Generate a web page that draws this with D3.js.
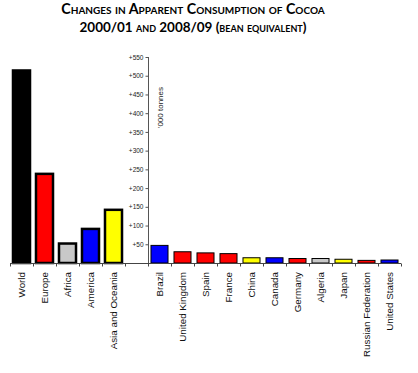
<!DOCTYPE html>
<html>
<head>
<meta charset="utf-8">
<script src="https://cdn.jsdelivr.net/npm/d3@7"></script>
<style>
  body { margin: 0; background: #fff; }
  text { font-family: "Liberation Sans", Arial, sans-serif; }
</style>
</head>
<body>
<div id="chart"></div>
<script>
// chart values
var regions = ["World", "Europe", "Africa", "America", "Asia and Oceania"];
var regionValues = [514, 238, 52, 91, 142];
var countries = ["Brazil", "United Kingdom", "Spain", "France", "China", "Canada",
  "Germany", "Algeria", "Japan", "Russian Federation", "United States"];
var countryValues = [47, 30, 27, 25, 14, 14, 12, 12, 10, 7, 8];
var yTicks = [50, 100, 150, 200, 250, 300, 350, 400, 450, 500, 550];

// fill per category
var fills = {
  "World": "#000000", "Europe": "#ff0000", "Africa": "#c8c8c8", "America": "#0000ff",
  "Asia and Oceania": "#ffff00", "Brazil": "#0000ff", "United Kingdom": "#ff0000",
  "Spain": "#ff0000", "France": "#ff0000", "China": "#ffff00", "Canada": "#0000ff",
  "Germany": "#ff0000", "Algeria": "#c8c8c8", "Japan": "#ffff00",
  "Russian Federation": "#ff0000", "United States": "#0000ff"
};

var svgWidth = 418, svgHeight = 373;

var svg = d3.select("#chart").append("svg")
  .attr("width", svgWidth)
  .attr("height", svgHeight);

// title, each line sized to the width it takes in the original
var titleLines = [
  { text: "Changes in Apparent Consumption of Cocoa", y: 14, w: 253 },
  { text: "2000/01 and 2008/09 (bean equivalent)", y: 32, w: 227 }
];
svg.append("g")
  .attr("font-weight", "bold")
  .attr("text-anchor", "middle")
  .attr("fill", "#000")
  .selectAll("text")
  .data(titleLines)
  .enter()
  .append("text")
  .attr("x", 193)
  .attr("y", d => d.y)
  .attr("font-size", 12)
  .style("font-family", "Lato, 'Open Sans', sans-serif")
  .style("font-variant", "small-caps")
  .text(d => d.text)
  .each(function(d) {
    var len = this.getComputedTextLength();
    d3.select(this).attr("font-size", 12 * d.w / len);
  });

// one slot axis with a gap between regions and countries
var slots = regions.concat(["gap"]).concat(countries);
var data = regions.map((d, i) => ({ name: d, value: regionValues[i], group: "region" }))
  .concat(countries.map((d, i) => ({ name: d, value: countryValues[i], group: "country" })));

var x = d3.scaleBand()
  .domain(slots)
  .range([10, 401])
  .paddingInner(0.26)
  .paddingOuter(0.13);

var y = d3.scaleLinear()
  .domain([0, 550])
  .range([263, 57]);

// bars
svg.append("g").selectAll("rect")
  .data(data)
  .enter()
  .append("rect")
  .attr("x", d => x(d.name))
  .attr("y", d => y(d.value))
  .attr("width", x.bandwidth())
  .attr("height", d => y(0) - y(d.value))
  .attr("fill", d => fills[d.name])
  .attr("stroke", "#000")
  .attr("stroke-width", d => d.group == "region" ? 2.5 : 1);

// y axis sits at the boundary between the gap and Brazil
var axisX = x("Brazil") - x.step() * x.paddingInner() / 2;
var leftAxis = d3.axisLeft(y)
  .tickValues(yTicks)
  .tickSize(3)
  .tickPadding(2)
  .tickFormat(d => "+" + d);

var yAxis = svg.append("g")
  .attr("transform", `translate(${Math.round(axisX) + 0.5}, 0)`)
  .call(leftAxis);
yAxis.select(".domain").attr("d", `M0,${y(550)}V${y(0)}`).attr("stroke", "#555");
yAxis.selectAll(".tick line").attr("stroke", "#555");
yAxis.selectAll(".tick text")
  .attr("font-family", "'Liberation Sans', Arial, sans-serif")
  .attr("font-size", 6.5)
  .attr("fill", "#222");

// bottom category axis: ticks at slot boundaries
var bounds = slots.map(s => x(s) - x.step() * x.paddingInner() / 2)
  .concat([x(slots[slots.length - 1]) + x.bandwidth() + x.step() * x.paddingInner() / 2]);
var xAxis = svg.append("g").attr("transform", `translate(0, ${y(0) + 0.5})`);
xAxis.append("line")
  .attr("x1", bounds[0]).attr("x2", bounds[bounds.length - 1])
  .attr("stroke", "#444");
xAxis.selectAll(".bt")
  .data(bounds)
  .enter()
  .append("line")
  .attr("class", "bt")
  .attr("x1", d => Math.round(d) + 0.5).attr("x2", d => Math.round(d) + 0.5)
  .attr("y1", 0).attr("y2", 3)
  .attr("stroke", "#444");

// category labels
svg.append("g").selectAll("text")
  .data(data)
  .enter()
  .append("text")
  .attr("transform", d => `translate(${x(d.name) + x.bandwidth() / 2 + 3.5}, 272) rotate(-90)`)
  .attr("text-anchor", "end")
  .attr("font-size", 9.8)
  .attr("fill", "#111")
  .text(d => d.name);

// unit label
svg.append("text")
  .attr("transform", `translate(163, 87) rotate(-90)`)
  .attr("text-anchor", "end")
  .attr("font-size", 8)
  .attr("fill", "#222")
  .text("'000 tonnes");
</script>
</body>
</html>
